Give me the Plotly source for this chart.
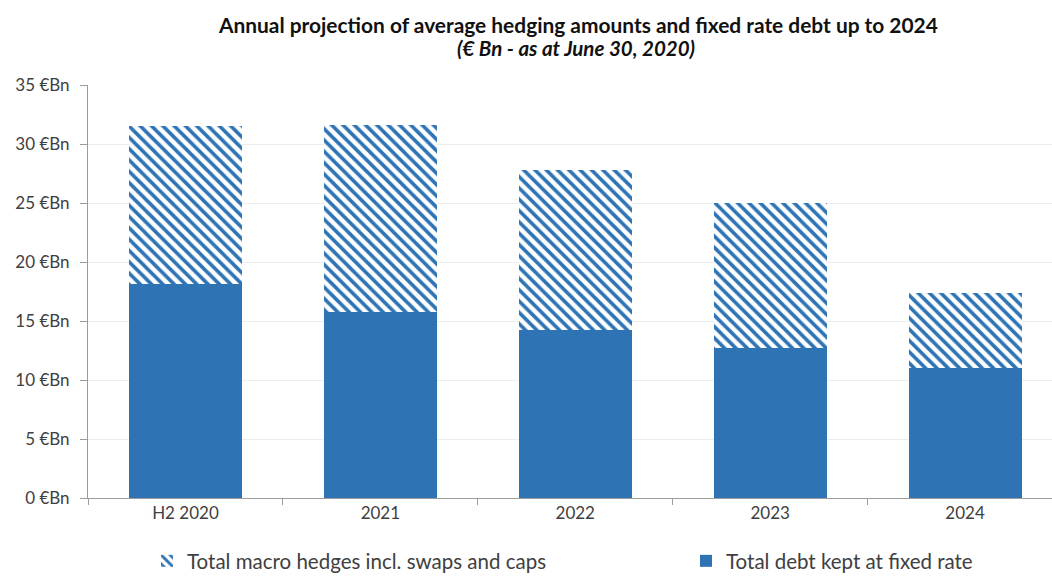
import plotly.graph_objects as go

# Annual projection (€ Bn, as at June 30, 2020)
categories = ["H2 2020", "2021", "2022", "2023", "2024"]
fixed_rate_debt = [18.1, 15.8, 14.2, 12.7, 11.0]
macro_hedges = [13.4, 15.8, 13.6, 12.3, 6.4]

y_tick_values = [0, 5, 10, 15, 20, 25, 30, 35]
y_tick_labels = ["0 €Bn", "5 €Bn", "10 €Bn", "15 €Bn", "20 €Bn", "25 €Bn", "30 €Bn", "35 €Bn"]

BLUE = "#2E74B5"
TEXT = "#404040"
FONT = "Lato"

W, H = 1052, 581
M_L, M_R, M_T, M_B = 88, 0, 85, 83

fig = go.Figure()

fig.add_trace(go.Bar(
    x=categories,
    y=fixed_rate_debt,
    name="Total debt kept at fixed rate",
    marker=dict(color=BLUE, line=dict(width=0)),
    width=0.58,
    legend="legend2",
))

fig.add_trace(go.Bar(
    x=categories,
    y=macro_hedges,
    name="Total macro hedges incl. swaps and caps",
    marker=dict(
        color=BLUE,
        line=dict(width=0),
        pattern=dict(shape="\\", fillmode="replace", bgcolor="white",
                     fgcolor=BLUE, size=8, solidity=0.45),
    ),
    width=0.58,
    legend="legend",
))

legend_font = dict(family=FONT, size=20.5, color=TEXT)

fig.update_layout(
    width=W,
    height=H,
    margin=dict(l=M_L, r=M_R, t=M_T, b=M_B, pad=0),
    paper_bgcolor="white",
    plot_bgcolor="white",
    barmode="stack",
    showlegend=True,
    font=dict(family=FONT, color=TEXT),
    legend=dict(
        xref="container", yref="container",
        x=147 / W, y=-4 / H, xanchor="left", yanchor="bottom",
        orientation="h", font=legend_font, bgcolor="rgba(0,0,0,0)",
        itemclick=False,
    ),
    legend2=dict(
        xref="container", yref="container",
        x=686 / W, y=-4 / H, xanchor="left", yanchor="bottom",
        orientation="h", font=legend_font, bgcolor="rgba(0,0,0,0)",
        itemclick=False,
    ),
    xaxis=dict(
        range=[-0.5, -0.5 + (W - M_L - M_R) / 194.9],
        showgrid=False,
        showline=True,
        linecolor="#9C9C9C",
        linewidth=1,
        ticks="outside",
        tickson="boundaries",
        ticklen=6,
        tickcolor="#9C9C9C",
        tickfont=dict(family=FONT, size=17, color=TEXT),
        fixedrange=True,
    ),
    yaxis=dict(
        range=[0, 35],
        tickvals=y_tick_values,
        ticktext=y_tick_labels,
        showgrid=True,
        gridcolor="#EDEDED",
        gridwidth=1,
        showline=True,
        linecolor="#9C9C9C",
        linewidth=1,
        ticks="outside",
        ticklen=7,
        tickcolor="#9C9C9C",
        ticklabelstandoff=7,
        tickfont=dict(family=FONT, size=17, color=TEXT),
        zeroline=False,
        fixedrange=True,
    ),
    annotations=[
        dict(
            text="<b>Annual projection of average hedging amounts and fixed rate debt up to 2024</b>",
            xref="paper", yref="paper",
            x=(578 - M_L) / (W - M_L - M_R), y=1 + (M_T - 24) / (H - M_T - M_B),
            xanchor="center", yanchor="middle", showarrow=False,
            font=dict(family=FONT, size=20.9, color="#111111"),
        ),
        dict(
            text="<b><i>(€ Bn - as at June 30, 2020)</i></b>",
            xref="paper", yref="paper",
            x=(576 - M_L) / (W - M_L - M_R), y=1 + (M_T - 48) / (H - M_T - M_B),
            xanchor="center", yanchor="middle", showarrow=False,
            font=dict(family=FONT, size=20.5, color="#111111"),
        ),
    ],
)

fig.write_html("out.html", config={"displayModeBar": False})
